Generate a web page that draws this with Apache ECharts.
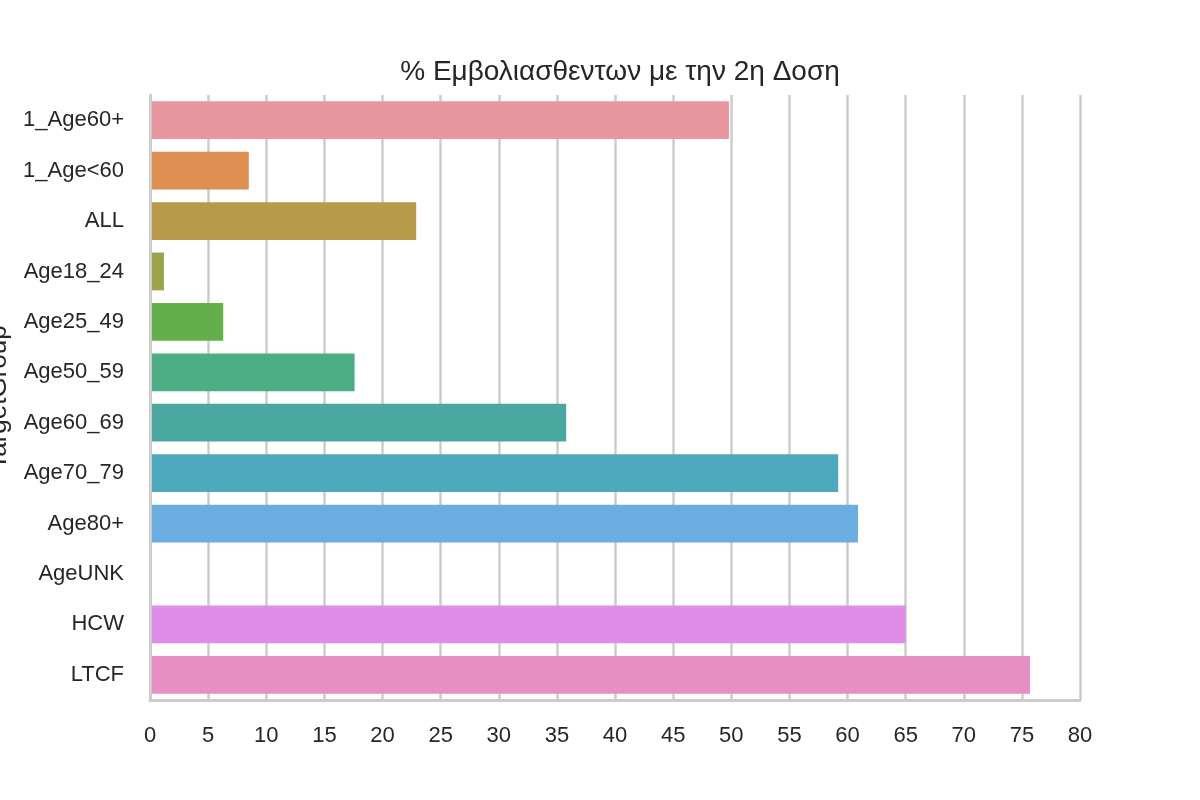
<!DOCTYPE html>
<html>
<head>
<meta charset="utf-8">
<script src="https://cdn.jsdelivr.net/npm/echarts@6/dist/echarts.min.js"></script>
<style>html,body{margin:0;padding:0;background:#fff;}#c{width:1200px;height:800px;}</style>
</head>
<body>
<div id="c"></div>
<script>
const categories = ['1_Age60+','1_Age<60','ALL','Age18_24','Age25_49','Age50_59','Age60_69','Age70_79','Age80+','AgeUNK','HCW','LTCF'];
const values = [49.8, 8.5, 22.9, 1.2, 6.3, 17.6, 35.8, 59.2, 60.9, 0, 65.0, 75.7];
const colors = ['#E8969F','#E08F53','#B89B4A','#9AA34A','#62AF4B','#4DAE85','#4BA8A1','#4EA8BE','#6AADE1','#A39EEA','#DE8DE9','#E78FC4'];
const xTicks = {min: 0, max: 80, interval: 5};
const titleText = '% Εμβολιασθεντων με την 2η Δοση';
const yName = 'TargetGroup';

const chart = echarts.init(document.getElementById('c'), null, {renderer: 'canvas'});
const font = 'Liberation Sans, Arial, sans-serif';
chart.setOption({
  animation: false,
  backgroundColor: '#ffffff',
  title: {
    text: titleText, left: 615, textAlign: 'center', top: 53,
    textStyle: {fontFamily: font, fontSize: 28, fontWeight: 'normal', color: '#262626'}
  },
  grid: {left: 150, right: 120, top: 95, bottom: 100, containLabel: false, outerBoundsMode: 'none'},
  xAxis: {
    type: 'value', min: xTicks.min, max: xTicks.max, interval: xTicks.interval,
    z: 0,
    axisLine: {show: true, onZero: false, lineStyle: {color: '#cccccc', width: 3}},
    axisTick: {show: false},
    axisLabel: {fontFamily: font, fontSize: 22, color: '#262626', margin: 25},
    splitLine: {show: true, lineStyle: {color: '#cccccc', width: 2.5}}
  },
  yAxis: {
    type: 'category', data: categories, inverse: true,
    z: 5,
    name: yName, nameLocation: 'middle', nameRotate: 90, nameGap: 134,
    nameTextStyle: {fontFamily: font, fontSize: 26, color: '#262626'},
    axisLine: {show: true, lineStyle: {color: '#cccccc', width: 3}},
    axisTick: {show: false},
    axisLabel: {fontFamily: font, fontSize: 22, color: '#262626', margin: 26},
    splitLine: {show: false}
  },
  series: [{
    type: 'bar',
    data: values.map((v, i) => ({value: v, itemStyle: {color: colors[i]}})),
    barWidth: '75%',
    z: 3
  }]
});
</script>
</body>
</html>
